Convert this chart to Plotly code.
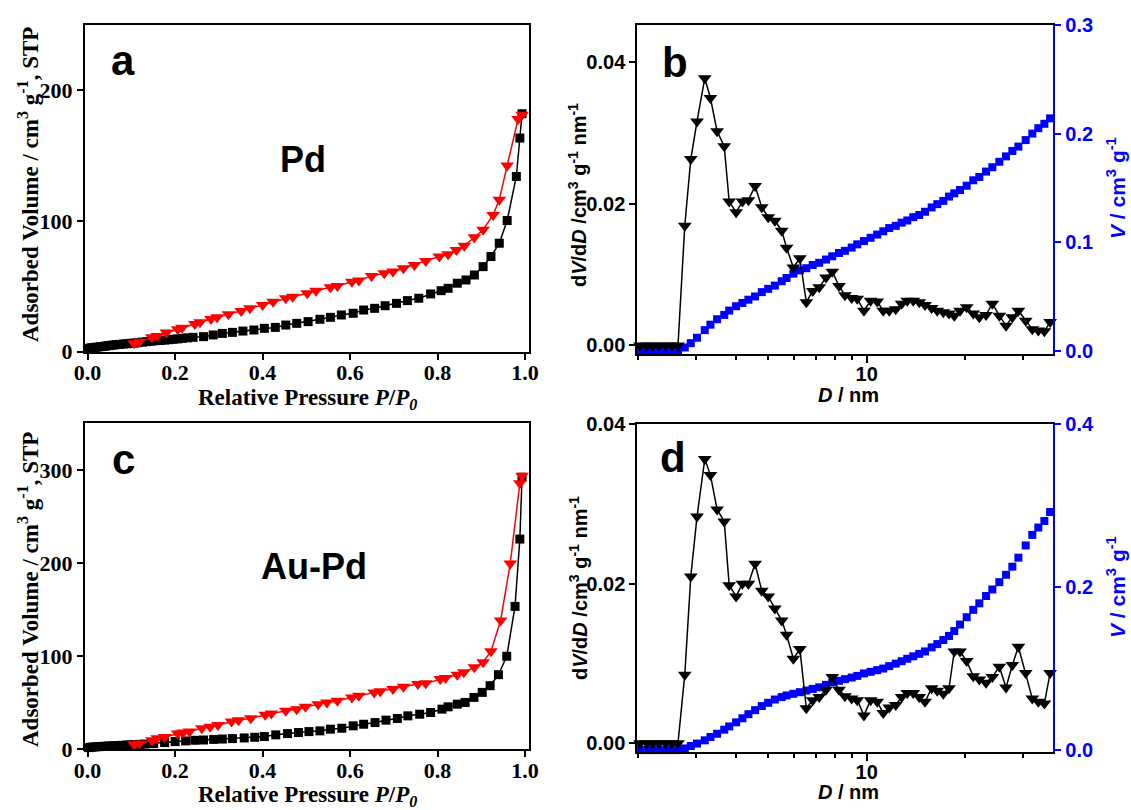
import plotly.graph_objects as go

# ---------------- Panel a (Pd isotherm) ----------------
p_ads_a = [0.002, 0.006, 0.010, 0.016, 0.022, 0.029, 0.035, 0.041, 0.047, 0.053, 0.059, 0.065,
           0.073, 0.082, 0.090, 0.098, 0.106, 0.114, 0.125, 0.135, 0.145, 0.155, 0.166, 0.176,
           0.186, 0.196, 0.206, 0.216, 0.228, 0.241, 0.265, 0.287, 0.308, 0.331, 0.355, 0.380,
           0.404, 0.429, 0.453, 0.478, 0.504, 0.531, 0.555, 0.580, 0.607, 0.631, 0.656, 0.680,
           0.706, 0.731, 0.757, 0.784, 0.808, 0.824, 0.845, 0.865, 0.884, 0.904, 0.922, 0.941,
           0.959, 0.980, 0.988, 0.993]
v_ads_a = [2.4, 2.8, 3.0, 3.3, 3.5, 3.8, 4.0, 4.3, 4.6, 4.9, 5.1, 5.4,
           5.6, 5.9, 6.1, 6.4, 6.6, 6.9, 7.3, 7.7, 8.0, 8.4, 8.6, 8.9,
           9.2, 9.5, 9.8, 10.2, 10.6, 11.0, 11.5, 12.8, 14.0, 14.8, 15.8, 16.6,
           17.9, 18.6, 20.4, 21.7, 23.0, 24.8, 26.3, 28.1, 29.4, 31.9, 33.2, 35.2,
           37.0, 39.1, 40.9, 44.2, 46.7, 48.5, 52.4, 54.9, 58.7, 65.1, 72.8, 83.0,
           100.4, 134.1, 163.5, 182.1]
p_des_a = [0.106, 0.118, 0.147, 0.159, 0.180, 0.206, 0.216, 0.245, 0.257, 0.282, 0.296, 0.322,
           0.351, 0.371, 0.400, 0.424, 0.453, 0.469, 0.502, 0.522, 0.555, 0.571, 0.604, 0.620,
           0.649, 0.678, 0.698, 0.722, 0.747, 0.773, 0.804, 0.824, 0.843, 0.861, 0.884, 0.904,
           0.927, 0.941, 0.959, 0.984, 0.993]
v_des_a = [6.4, 7.7, 11.0, 12.0, 14.6, 17.1, 18.4, 21.2, 22.5, 25.0, 26.3, 28.6,
           31.2, 33.2, 35.8, 38.3, 40.9, 42.1, 44.7, 46.7, 49.3, 50.3, 53.6, 54.4,
           58.0, 60.0, 61.3, 63.9, 66.4, 69.5, 72.8, 74.6, 77.9, 81.0, 87.6, 93.3,
           104.7, 116.2, 142.5, 178.0, 181.4]

# ---------------- Panel c (Au-Pd isotherm) ----------------
p_ads_c = [0.002, 0.008, 0.014, 0.020, 0.027, 0.034, 0.041, 0.048, 0.055, 0.063, 0.071, 0.080,
           0.090, 0.100, 0.110, 0.120, 0.131, 0.151, 0.176, 0.200, 0.224, 0.245, 0.265, 0.288,
           0.308, 0.331, 0.358, 0.382, 0.404, 0.430, 0.457, 0.482, 0.506, 0.531, 0.555, 0.581,
           0.607, 0.631, 0.657, 0.682, 0.708, 0.732, 0.759, 0.784, 0.810, 0.824, 0.845, 0.863,
           0.883, 0.902, 0.920, 0.939, 0.958, 0.977, 0.988, 0.993]
v_ads_c = [1.8, 2.2, 2.5, 2.7, 2.9, 3.1, 3.3, 3.5, 3.7, 3.9, 4.1, 4.3,
           4.6, 4.9, 5.1, 5.3, 5.6, 6.1, 7.2, 8.3, 9.0, 9.7, 10.0, 10.6,
           11.0, 11.5, 12.2, 12.9, 13.7, 15.5, 16.9, 18.0, 19.0, 19.8, 21.6, 22.6,
           25.2, 26.9, 28.7, 31.3, 33.1, 35.9, 37.7, 39.5, 43.1, 45.6, 48.5, 50.3,
           55.7, 61.1, 68.3, 80.1, 99.9, 153.4, 225.7, 292.1]
p_des_c = [0.106, 0.118, 0.147, 0.159, 0.176, 0.206, 0.218, 0.233, 0.261, 0.280, 0.298, 0.329,
           0.345, 0.373, 0.406, 0.420, 0.453, 0.478, 0.498, 0.527, 0.547, 0.571, 0.604, 0.620,
           0.655, 0.669, 0.698, 0.722, 0.755, 0.773, 0.806, 0.818, 0.845, 0.860, 0.884, 0.904,
           0.922, 0.944, 0.966, 0.988, 0.993]
v_des_c = [5.4, 6.1, 9.7, 11.9, 13.3, 16.9, 18.0, 19.0, 22.6, 24.1, 26.2, 29.8,
           31.3, 33.4, 37.0, 38.4, 41.3, 43.1, 45.6, 48.5, 50.3, 52.1, 55.7, 57.5,
           61.1, 62.2, 64.7, 67.2, 70.1, 70.8, 75.5, 76.5, 80.1, 82.6, 88.0, 93.4,
           105.3, 138.3, 199.4, 285.7, 293.6]

# ---------------- Panels b and d (pore size distributions) ----------------
pore_d_nm = [2.03, 2.13, 2.22, 2.32, 2.43, 2.54, 2.65,
             2.78, 2.90, 3.03, 3.20, 3.33, 3.49, 3.67, 3.80, 3.99, 4.17, 4.35, 4.56, 4.78, 5.00,
             5.24, 5.50, 5.69, 5.97, 6.25,
             6.54, 6.84, 7.16, 7.51, 7.85, 8.23, 8.58, 9.00, 9.36, 9.81,
             10.28, 10.77, 11.24, 11.72, 12.27, 12.79, 13.31, 13.88, 14.48, 15.08,
             15.80, 16.44, 17.15, 17.85, 18.53, 19.29, 20.22, 21.18, 22.10, 23.17,
             24.22, 25.44, 26.67, 27.88, 29.09, 30.63, 32.09, 33.48, 34.93, 36.37]

dvdd_b = [0, 0, 0, 0, 0, 0, 0,
          0.0169, 0.0263, 0.0316, 0.0377, 0.0349, 0.0302, 0.0281, 0.0203, 0.0188, 0.0203, 0.0205,
          0.0225, 0.0195, 0.0181, 0.0176, 0.0162, 0.0138, 0.0110, 0.0123,
          0.0061, 0.0077, 0.0082, 0.0096, 0.0104, 0.0084, 0.0071, 0.0067, 0.0066, 0.0049,
          0.0063, 0.0062, 0.0049, 0.0049, 0.0051, 0.0059, 0.0063, 0.0063, 0.0061, 0.0057,
          0.0053, 0.0049, 0.0047, 0.0045, 0.0042, 0.0049, 0.0054, 0.0045, 0.0040, 0.0043,
          0.0059, 0.0042, 0.0028, 0.0040, 0.0049, 0.0035, 0.0023, 0.0021, 0.0020, 0.0033]
vcum_b = [0, 0, 0, 0, 0, 0, 0,
          0.003, 0.007, 0.012, 0.019, 0.024, 0.029, 0.033, 0.037, 0.041, 0.044, 0.047,
          0.050, 0.054, 0.057, 0.060, 0.064, 0.067, 0.071, 0.074,
          0.076, 0.079, 0.081, 0.084, 0.087, 0.090, 0.092, 0.095, 0.098, 0.101,
          0.104, 0.107, 0.110, 0.113, 0.115, 0.118, 0.120, 0.123, 0.125, 0.128,
          0.132, 0.135, 0.138, 0.142, 0.145, 0.148, 0.152, 0.157, 0.160, 0.165,
          0.169, 0.174, 0.179, 0.184, 0.188, 0.194, 0.200, 0.205, 0.209, 0.214]

dvdd_d = [0, 0, 0, 0, 0, 0, 0,
          0.0086, 0.0209, 0.0284, 0.0356, 0.0336, 0.0293, 0.0278, 0.0198, 0.0184, 0.0200, 0.0200,
          0.0225, 0.0191, 0.0184, 0.0169, 0.0154, 0.0136, 0.0106, 0.0118,
          0.0044, 0.0054, 0.0058, 0.0067, 0.0083, 0.0067, 0.0059, 0.0056, 0.0054, 0.0035,
          0.0054, 0.0052, 0.0038, 0.0045, 0.0048, 0.0058, 0.0063, 0.0063, 0.0058, 0.0052,
          0.0069, 0.0066, 0.0062, 0.0069, 0.0115, 0.0115, 0.0103, 0.0084, 0.0080, 0.0076,
          0.0083, 0.0096, 0.0070, 0.0098, 0.0121, 0.0088, 0.0056, 0.0052, 0.0050, 0.0088]
vcum_d = [0, 0, 0, 0, 0, 0, 0,
          0.002, 0.005, 0.008, 0.012, 0.016, 0.020, 0.025, 0.029, 0.034, 0.039, 0.044,
          0.049, 0.054, 0.058, 0.062, 0.065, 0.067, 0.069, 0.071,
          0.073, 0.075, 0.077, 0.080, 0.083, 0.085, 0.087, 0.089, 0.091, 0.094,
          0.096, 0.098, 0.100, 0.103, 0.106, 0.109, 0.112, 0.115, 0.118, 0.121,
          0.126, 0.130, 0.135, 0.140, 0.146, 0.154, 0.163, 0.172, 0.180, 0.189,
          0.197, 0.206, 0.215, 0.225, 0.236, 0.251, 0.264, 0.273, 0.281, 0.292]

# ---------------- Styling ----------------
W, H = 1131, 810
SERIF = "Liberation Serif, Times New Roman, serif"
SANS = "Liberation Sans, Arial, sans-serif"
BLUE = "#0000ff"
RED = "#ff0000"


def px(x):
    return x / W


def py(y):
    return 1 - y / H


fig = go.Figure()

# Panel a
fig.add_trace(go.Scatter(x=p_ads_a, y=v_ads_a, mode="lines+markers", xaxis="x", yaxis="y",
                         line=dict(color="black", width=1.5),
                         marker=dict(symbol="square", size=9, color="black"), cliponaxis=False))
fig.add_trace(go.Scatter(x=p_des_a, y=v_des_a, mode="lines+markers", xaxis="x", yaxis="y",
                         line=dict(color=RED, width=1.5),
                         marker=dict(symbol="triangle-down", size=12, color=RED), cliponaxis=False))
# Panel c
fig.add_trace(go.Scatter(x=p_ads_c, y=v_ads_c, mode="lines+markers", xaxis="x3", yaxis="y4",
                         line=dict(color="black", width=1.5),
                         marker=dict(symbol="square", size=9, color="black"), cliponaxis=False))
fig.add_trace(go.Scatter(x=p_des_c, y=v_des_c, mode="lines+markers", xaxis="x3", yaxis="y4",
                         line=dict(color=RED, width=1.5),
                         marker=dict(symbol="triangle-down", size=12, color=RED), cliponaxis=False))
# Panel b (blue on primary right axis, black on overlaid left axis so it draws on top)
fig.add_trace(go.Scatter(x=pore_d_nm, y=vcum_b, mode="markers", xaxis="x2", yaxis="y2",
                         marker=dict(symbol="square", size=8, color=BLUE), cliponaxis=False))
fig.add_trace(go.Scatter(x=pore_d_nm, y=dvdd_b, mode="lines+markers", xaxis="x2", yaxis="y3",
                         line=dict(color="black", width=1.5),
                         marker=dict(symbol="triangle-down", size=12, color="black"), cliponaxis=False))
# Panel d
fig.add_trace(go.Scatter(x=pore_d_nm, y=vcum_d, mode="markers", xaxis="x4", yaxis="y5",
                         marker=dict(symbol="square", size=8, color=BLUE), cliponaxis=False))
fig.add_trace(go.Scatter(x=pore_d_nm, y=dvdd_d, mode="lines+markers", xaxis="x4", yaxis="y6",
                         line=dict(color="black", width=1.5),
                         marker=dict(symbol="triangle-down", size=12, color="black"), cliponaxis=False))

serif_tick = dict(family=SERIF, size=22, color="black", weight="bold")
sans_tick = dict(family=SANS, size=20, color="black", weight="bold")
blue_tick = dict(family=SANS, size=20, color=BLUE, weight="bold")

common = dict(showgrid=False, zeroline=False, showline=True, linewidth=2, ticks="outside",
              ticklen=6, tickwidth=2, automargin=False)

dom_x_left = [px(85), px(528.6)]
dom_x_right = [px(637.3), px(1053.3)]

iso_x = dict(common, linecolor="black", tickcolor="black", mirror=True, range=[-0.006, 1.008],
             tickvals=[0, 0.2, 0.4, 0.6, 0.8, 1.0], tickformat=".1f", tickfont=serif_tick,
             ticklabelstandoff=-6)
log_x = dict(common, linecolor="black", tickcolor="black", mirror=True, type="log",
             range=[0.2989, 1.5705], tickvals=[10], ticktext=["10"], ticklen=7,
             tickfont=sans_tick, ticklabelstandoff=-6,
             minor=dict(ticks="outside", tickmode="array",
                        tickvals=[2, 3, 4, 5, 6, 7, 8, 9, 20, 30], ticklen=4,
                        tickwidth=1.5, tickcolor="black", showgrid=False))

fig.update_layout(
    width=W, height=H, margin=dict(l=0, r=0, t=0, b=0, autoexpand=False),
    paper_bgcolor="white", plot_bgcolor="white", showlegend=False,
    xaxis=dict(iso_x, domain=dom_x_left, anchor="y"),
    yaxis=dict(common, linecolor="black", tickcolor="black", mirror=True,
               domain=[py(351.7), py(25)], anchor="x", range=[0, 250],
               tickvals=[0, 100, 200], tickfont=serif_tick),
    xaxis3=dict(iso_x, domain=dom_x_left, anchor="y4"),
    yaxis4=dict(common, linecolor="black", tickcolor="black", mirror=True,
                domain=[py(749.3), py(423.3)], anchor="x3", range=[0, 350],
                tickvals=[0, 100, 200, 300], tickfont=serif_tick),
    xaxis2=dict(log_x, domain=dom_x_right, anchor="y2"),
    yaxis2=dict(common, linecolor=BLUE, tickcolor=BLUE, side="right", anchor="x2",
                domain=[py(354), py(25)], range=[-0.003, 0.3],
                tickvals=[0, 0.1, 0.2, 0.3], tickformat=".1f", tickfont=blue_tick),
    yaxis3=dict(common, linecolor="black", tickcolor="black", side="left", anchor="x2",
                overlaying="y2", range=[-0.0012, 0.0452],
                tickvals=[0, 0.02, 0.04], tickformat=".2f", tickfont=sans_tick),
    xaxis4=dict(log_x, domain=dom_x_right, anchor="y5"),
    yaxis5=dict(common, linecolor=BLUE, tickcolor=BLUE, side="right", anchor="x4",
                domain=[py(751.7), py(424)], range=[-0.002, 0.4],
                tickvals=[0, 0.2, 0.4], tickformat=".1f", tickfont=blue_tick),
    yaxis6=dict(common, linecolor="black", tickcolor="black", side="left", anchor="x4",
                overlaying="y5", range=[-0.00105, 0.040],
                tickvals=[0, 0.02, 0.04], tickformat=".2f", tickfont=sans_tick),
)

serif_title = dict(family=SERIF, size=23, color="black", weight="bold")
sans_title = dict(family=SANS, size=20, color="black", weight="bold")
blue_title = dict(family=SANS, size=21, color=BLUE, weight="bold")
letter_font = dict(family=SANS, size=42, color="black", weight="bold")
sample_font = dict(family=SANS, size=36, color="black", weight="bold")

ann = []


def add(text, x, y, font, angle=0):
    ann.append(dict(text=text, x=px(x), y=py(y), xref="paper", yref="paper",
                    xanchor="center", yanchor="middle", showarrow=False, font=font,
                    textangle=angle))


iso_ytitle = "Adsorbed Volume / cm<sup>3</sup> g<sup>-1</sup>, STP"
iso_xtitle = "Relative Pressure <i>P</i>/<i>P</i><sub><i>0</i></sub>"
psd_ytitle = "d<i>V</i>/d<i>D</i> /cm<sup>3</sup> g<sup>-1</sup> nm<sup>-1</sup>"
psd_y2title = "<i>V</i> / cm<sup>3</sup> g<sup>-1</sup>"
psd_xtitle = "<i>D</i> / nm"

add(iso_ytitle, 28, 185, serif_title, -90)
add(iso_xtitle, 307, 399, serif_title)
add(iso_ytitle, 28, 590, serif_title, -90)
add(iso_xtitle, 307, 796, serif_title)

add(psd_ytitle, 578, 195, sans_title, -90)
add(psd_y2title, 1116, 188, blue_title, -90)
add(psd_xtitle, 848, 395, sans_title)
add(psd_ytitle, 578, 588, sans_title, -90)
add(psd_y2title, 1116, 587, blue_title, -90)
add(psd_xtitle, 848, 792, sans_title)

add("a", 123, 60, letter_font)
add("b", 675, 63, letter_font)
add("c", 123, 459, letter_font)
add("d", 673, 457, letter_font)
add("Pd", 303, 159, sample_font)
add("Au-Pd", 314, 566, sample_font)

fig.update_layout(annotations=ann)
fig.write_html("out.html")
